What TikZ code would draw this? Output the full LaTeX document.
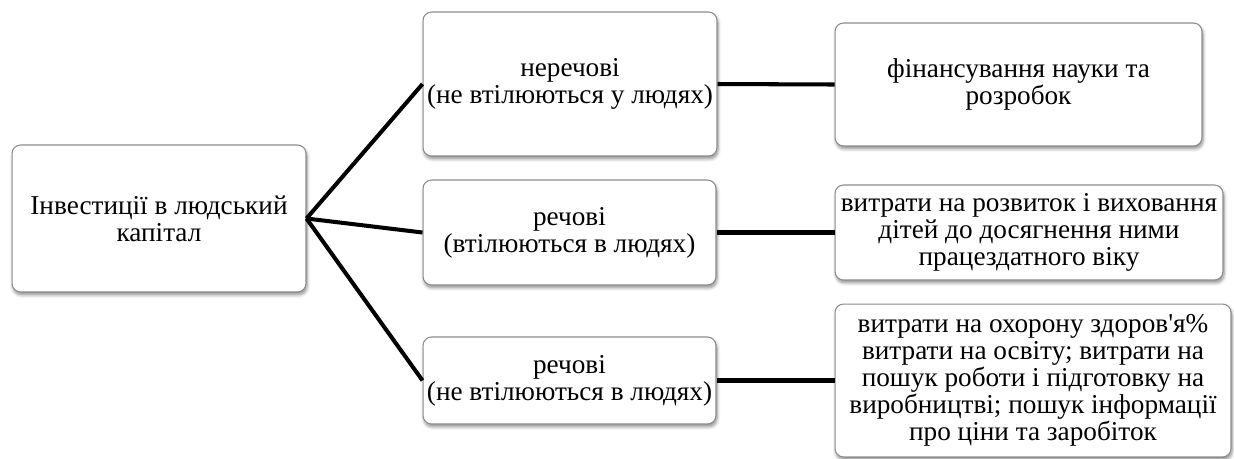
\documentclass[tikz,border=0pt]{standalone}
\usepackage{fontspec}
\setmainfont{Liberation Serif}[Ligatures=TeXOff]
\usetikzlibrary{shadows.blur}
\begin{document}
\begin{tikzpicture}[x=0.02cm,y=-0.02cm,
  box/.style={draw=black!45, line width=0.6pt, fill=white, rounded corners=0.17cm,
    align=center, inner sep=0pt,
    font=\fontsize{15.5}{15.3}\selectfont,
    blur shadow={shadow xshift=0.6pt, shadow yshift=-1.6pt, shadow blur steps=6, shadow opacity=45}},
  link/.style={line width=2.3pt, black}]
\useasboundingbox (0,0) rectangle (1234,458);
\node[box, minimum width=5.88cm, minimum height=2.94cm] (a) at (159,218.5) {Інвестиції в людський\\капітал};
\node[box, minimum width=5.88cm, minimum height=2.88cm] (b1) at (570,84) {неречові\\(не втілюються у людях)};
\node[box, minimum width=5.86cm, minimum height=2.10cm] (b2) at (569.5,232.5) {речові\\(втілюються в людях)};
\node[box, minimum width=5.86cm, minimum height=1.74cm] (b3) at (569.5,380.5) {речові\\(не втілюються в людях)};
\node[box, minimum width=7.34cm, minimum height=2.46cm] (c1) at (1018.5,84.5) {фінансування науки та\\розробок};
\node[box, minimum width=7.76cm, minimum height=1.90cm] (c2) at (1029,232.5) {витрати на розвиток і виховання\\дітей до досягнення ними\\працездатного віку};
\node[box, minimum width=7.92cm, minimum height=3.06cm] (c3) at (1033,380.5) {витрати на охорону здоров'я\%\\витрати на освіту; витрати на\\пошук роботи і підготовку на\\виробництві; пошук інформації\\про ціни та заробіток};
\draw[link] (a.east) -- (b1.west);
\draw[link] (a.east) -- (b2.west);
\draw[link] (a.east) -- (b3.west);
\draw[link] (b1.east) -- (c1.west);
\draw[link] (b2.east) -- (c2.west);
\draw[link] (b3.east) -- (c3.west);
\end{tikzpicture}
\end{document}
